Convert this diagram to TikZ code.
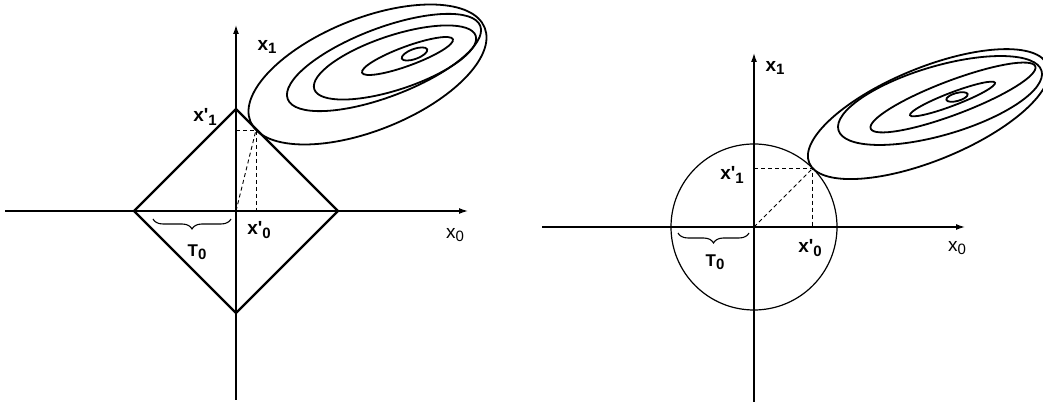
\documentclass[tikz,border=0pt]{standalone}
\usepackage{fontspec}
\setmainfont{Liberation Sans}
\usetikzlibrary{arrows.meta,decorations.pathreplacing}
\newcommand\lab[2]{#1\raisebox{-0.35ex}{\fontsize{15}{15}\selectfont #2}}
\begin{document}
\begin{tikzpicture}[x=1pt, y=1pt,
    ax/.style={-{Latex[length=9pt,width=6pt]}, line width=1.3pt},
    ring/.style={line width=1.8pt},
    guide/.style={dashed, line width=0.9pt, dash pattern=on 4pt off 3pt},
    brc/.style={decorate, decoration={brace, mirror, amplitude=10pt}, line width=1.1pt},
    lbl/.style={font=\fontsize{19}{19}\selectfont\bfseries, inner sep=1pt},
    lblt/.style={font=\fontsize{19}{19}\selectfont, inner sep=1pt},
    lblT/.style={font=\fontsize{17}{17}\selectfont\bfseries, inner sep=1pt}
]
\useasboundingbox (0,0) rectangle (1043,403);

% left panel: diamond
\coordinate (L-O) at (236,192);
\coordinate (L-W) at (5,192);
\coordinate (L-E) at (468,192);
\coordinate (L-S) at (236,3);
\coordinate (L-N) at (236,378);
\coordinate (L-top) at (236,294);
\coordinate (L-bot) at (236,90);
\coordinate (L-lft) at (134,192);
\coordinate (L-rgt) at (338,192);
\coordinate (L-T) at (256,273);

\draw[ax] (L-W) -- (L-E);
\draw[ax] (L-S) -- (L-N);
\draw[line width=2.3pt, line join=miter] (L-top) -- (L-rgt) -- (L-bot) -- (L-lft) -- cycle;
\foreach \cx/\cy/\a/\b/\r in {367.5/328.5/126.2/56/21.8, 384/340.5/103/34.3/20.8,
    395/340.5/85/27.1/18.3, 407.5/347/48.4/9.6/20.2, 414.5/349/13.5/5/20}
  \draw[ring, rotate around={\r:(\cx,\cy)}] (\cx,\cy) ellipse [x radius=\a, y radius=\b];
\draw[guide] (L-O |- L-T) -- (L-T) -- (L-T |- L-O);
\draw[guide] (L-O) -- (L-T);
\draw[brc] (153,184) -- (231,184);

\node[lbl] (L-x1) at (267,356) {\lab{x}{1}};
\node[lbl] (L-x1p) at (205,286) {\lab{x\textquotesingle}{1}};
\node[lbl] (L-x0p) at (259,173) {\lab{x\textquotesingle}{0}};
\node[lblt] (L-x0) at (455,168) {\lab{x}{0}};
\node[lblT] (L-t0) at (197,151) {\lab{T}{0}};

% right panel: circle
\coordinate (R-O) at (754,176);
\coordinate (R-W) at (542,176);
\coordinate (R-E) at (965,176);
\coordinate (R-S) at (754,1);
\coordinate (R-N) at (754,350);
\coordinate (R-T) at (812.7,234.7);

\draw[ax] (R-W) -- (R-E);
\draw[ax] (R-S) -- (R-N);
\draw[line width=1.2pt] (R-O) circle (83);
\foreach \cx/\cy/\a/\b/\r in {928.4/288.9/128.8/46.4/22.25, 940/302.5/105.8/34.5/16.3,
    953/305.5/88/17/20.7, 952.5/304/45.5/6.5/20.9, 957/306/11/4/15}
  \draw[ring, rotate around={\r:(\cx,\cy)}] (\cx,\cy) ellipse [x radius=\a, y radius=\b];
\draw[guide] (R-O |- R-T) -- (R-T) -- (R-T |- R-O);
\draw[guide] (R-O) -- (R-T);
\draw[brc] (678,170) -- (749,170);

\node[lbl] (R-x1) at (775,335) {\lab{x}{1}};
\node[lbl] (R-x1p) at (732,228) {\lab{x\textquotesingle}{1}};
\node[lbl] (R-x0p) at (810,155) {\lab{x\textquotesingle}{0}};
\node[lblt] (R-x0) at (957,155) {\lab{x}{0}};
\node[lblT] (R-t0) at (715,141) {\lab{T}{0}};
\end{tikzpicture}
\end{document}
